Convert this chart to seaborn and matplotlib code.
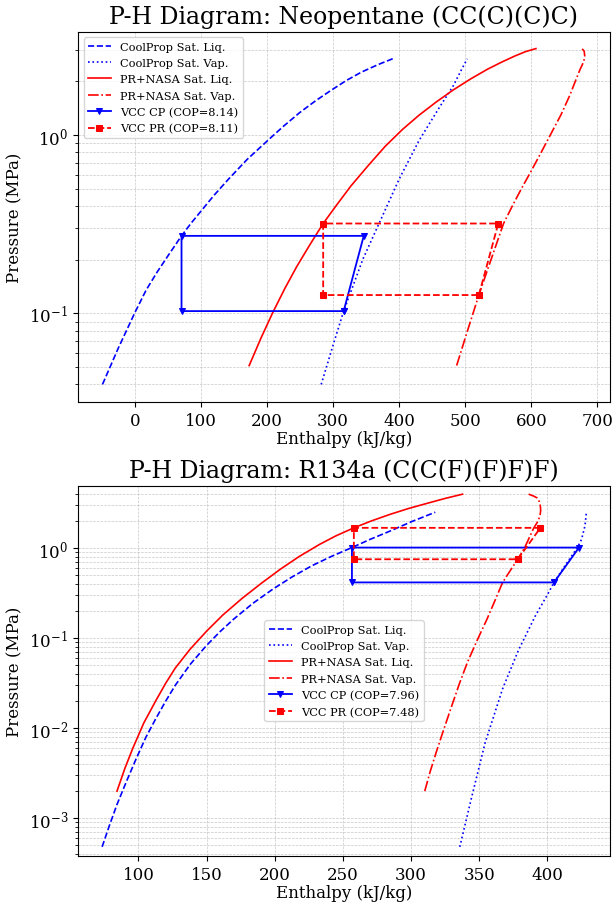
import matplotlib
matplotlib.use("Agg")
import matplotlib.pyplot as plt
import seaborn as sns

plt.rcParams['font.family'] = ['DejaVu Serif']

# --- Neopentane (CC(C)(C)C) ---
neo_cp_liq_h = [-49, -25, 0, 17, 33.5, 50, 70.6, 85, 100.5, 120, 141.8, 170, 203.6,
                225, 250, 273, 296, 320, 342.8, 368, 394]
neo_cp_liq_p = [0.040, 0.064, 0.101, 0.135, 0.170, 0.210, 0.272, 0.320, 0.376, 0.460,
                0.566, 0.730, 0.950, 1.12, 1.34, 1.55, 1.77, 2.02, 2.25, 2.48, 2.71]
neo_cp_vap_h = [282, 299, 316, 345, 369, 400, 430, 461, 482, 495, 503]
neo_cp_vap_p = [0.040, 0.0646, 0.103, 0.201, 0.316, 0.566, 0.930, 1.43, 1.89, 2.35, 2.67]
neo_pr_liq_h = [173, 191, 209, 227, 245, 265, 285, 306, 327, 353, 379, 405, 430,
                456, 482, 508, 534, 555, 575, 591, 607]
neo_pr_liq_p = [0.051, 0.0729, 0.1016, 0.138, 0.183, 0.243, 0.319, 0.408, 0.518, 0.673,
                0.865, 1.074, 1.29, 1.53, 1.79, 2.06, 2.34, 2.56, 2.77, 2.93, 3.05]
neo_pr_vap_h = [487, 503, 520.6, 539, 558, 571, 585, 600, 615, 630, 645, 658, 668,
                674, 679, 681, 680, 677]
neo_pr_vap_p = [0.051, 0.079, 0.1267, 0.200, 0.319, 0.398, 0.500, 0.630, 0.800, 1.02,
                1.30, 1.66, 2.06, 2.34, 2.56, 2.75, 2.95, 3.04]
neo_vcc_cp_h = [316, 346.4, 70.6, 70.6, 316]
neo_vcc_cp_p = [0.103, 0.272, 0.272, 0.103, 0.103]
neo_vcc_pr_h = [520.6, 550, 285, 285, 520.6]
neo_vcc_pr_p = [0.1267, 0.319, 0.319, 0.1267, 0.1267]
neo_cop = [8.14, 8.11]

# --- R134a (C(C(F)(F)F)F) ---
r134_cp_liq_h = [73.4, 78.5, 84.3, 91, 98.6, 105.5, 112.9, 120, 127.1, 138, 150, 160,
                 170, 184, 198.6, 212.5, 227, 241.5, 256.6, 270, 284.3, 301, 317.7]
r134_cp_liq_p = [0.00048, 0.00081, 0.00142, 0.00251, 0.00467, 0.00794, 0.0129, 0.020,
                 0.0301, 0.0513, 0.0834, 0.119, 0.164, 0.245, 0.352, 0.479, 0.638,
                 0.813, 1.02, 1.26, 1.55, 2.00, 2.52]
r134_cp_vap_h = [335.7, 344.3, 354.3, 367.1, 378.6, 390.8, 400.5, 404.8, 413, 422,
                 425, 427.5, 428.5]
r134_cp_vap_p = [0.00048, 0.00169, 0.00692, 0.0275, 0.073, 0.174, 0.316, 0.418, 0.646,
                 1.02, 1.26, 1.78, 2.48]
r134_pr_liq_h = [84.3, 90, 95.7, 104, 112.9, 120, 127.1, 138, 150, 162, 175.7, 190,
                 204.3, 218, 232.9, 245, 258, 271, 284.3, 298, 312.9, 325, 337.7]
r134_pr_liq_p = [0.002, 0.00355, 0.00589, 0.01148, 0.0204, 0.0316, 0.0468, 0.0759,
                 0.120, 0.182, 0.275, 0.407, 0.589, 0.813, 1.107, 1.38, 1.69, 2.02,
                 2.38, 2.77, 3.20, 3.59, 4.00]
r134_pr_vap_h = [310, 314, 318.6, 324, 330, 335.5, 341.4, 348.5, 355.7, 361.5, 367.1,
                 373, 378.2, 383.3, 387, 390, 393, 394.5, 395, 394.8, 394, 392.3,
                 390, 386.2]
r134_pr_vap_p = [0.002, 0.00331, 0.00552, 0.00977, 0.0181, 0.0316, 0.0546, 0.0955,
                 0.164, 0.263, 0.418, 0.575, 0.756, 1.02, 1.35, 1.69, 2.00, 2.30,
                 2.63, 2.94, 3.31, 3.64, 3.80, 4.00]
r134_vcc_cp_h = [404.8, 423.1, 256.6, 256.6, 404.8]
r134_vcc_cp_p = [0.418, 1.02, 1.02, 0.418, 0.418]
r134_vcc_pr_h = [378.2, 394.8, 258, 258, 378.2]
r134_vcc_pr_p = [0.756, 1.69, 1.69, 0.756, 0.756]
r134_cop = [7.96, 7.48]


def draw_ph(ax, curves, cycles, cop, title, xlim, ylim, legend_loc):
    styles = [('CoolProp Sat. Liq.', 'blue', '--'),
              ('CoolProp Sat. Vap.', 'blue', ':'),
              ('PR+NASA Sat. Liq.', 'red', '-'),
              ('PR+NASA Sat. Vap.', 'red', '-.')]
    for (h, p), (lab, col, ls) in zip(curves, styles):
        sns.lineplot(x=h, y=p, ax=ax, color=col, linestyle=ls, linewidth=1.2,
                     sort=False, estimator=None, label=lab)
    cyc_styles = [('VCC CP', 'blue', '-', 'v'), ('VCC PR', 'red', '--', 's')]
    for (h, p), c, (lab, col, ls, mk) in zip(cycles, cop, cyc_styles):
        sns.lineplot(x=h, y=p, ax=ax, color=col, linestyle=ls, marker=mk,
                     markersize=5, markeredgecolor=col, linewidth=1.3,
                     sort=False, estimator=None, label=f'{lab} (COP={c:.2f})')
    ax.set_yscale('log')
    ax.set_xlim(*xlim)
    ax.set_ylim(*ylim)
    ax.set_title(title, fontsize=17)
    ax.set_xlabel('Enthalpy (kJ/kg)', fontsize=12, labelpad=1)
    ax.set_ylabel('Pressure (MPa)', fontsize=12)
    ax.tick_params(labelsize=12)
    ax.grid(True, which='both', linestyle='--', linewidth=0.5, alpha=0.7)
    ax.legend(loc=legend_loc, fontsize=8.2, labelspacing=0.55)


fig, axes = plt.subplots(2, 1, figsize=(6.13, 9.04), dpi=100)
fig.subplots_adjust(left=0.127, right=0.995, top=0.964, bottom=0.052, hspace=0.226)

draw_ph(axes[0],
        [(neo_cp_liq_h, neo_cp_liq_p), (neo_cp_vap_h, neo_cp_vap_p),
         (neo_pr_liq_h, neo_pr_liq_p), (neo_pr_vap_h, neo_pr_vap_p)],
        [(neo_vcc_cp_h, neo_vcc_cp_p), (neo_vcc_pr_h, neo_vcc_pr_p)],
        neo_cop, 'P-H Diagram: Neopentane (CC(C)(C)C)',
        (-86.3, 719), (0.0319, 3.80), 'upper left')

draw_ph(axes[1],
        [(r134_cp_liq_h, r134_cp_liq_p), (r134_cp_vap_h, r134_cp_vap_p),
         (r134_pr_liq_h, r134_pr_liq_p), (r134_pr_vap_h, r134_pr_vap_p)],
        [(r134_vcc_cp_h, r134_vcc_cp_p), (r134_vcc_pr_h, r134_vcc_pr_p)],
        r134_cop, 'P-H Diagram: R134a (C(C(F)(F)F)F)',
        (55.6, 445.8), (3.8e-4, 4.98), 'center')

fig.savefig('out.png', dpi=100)
